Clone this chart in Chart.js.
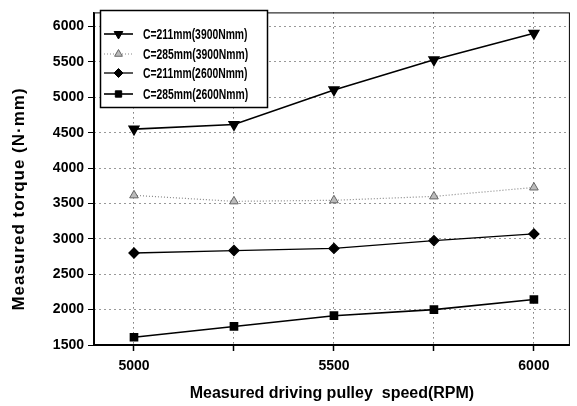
<!DOCTYPE html>
<html>
<head>
<meta charset="utf-8">
<script src="https://cdn.jsdelivr.net/npm/chart.js@4/dist/chart.umd.min.js"></script>
<style>
  html, body { margin: 0; padding: 0; background: #fff; }
  #wrap { width: 577px; height: 406px; }
</style>
</head>
<body>
<div id="wrap"><canvas id="chart"></canvas></div>
<script>
const SPEEDS = [5000, 5250, 5500, 5750, 6000];
const SERIES_LABELS = ['C=211mm(3900Nmm)', 'C=285mm(3900Nmm)', 'C=211mm(2600Nmm)', 'C=285mm(2600Nmm)'];
const TORQUE_211_3900 = [4550, 4615, 5105, 5530, 5905];
const TORQUE_285_3900 = [3615, 3530, 3545, 3600, 3726];
const TORQUE_211_2600 = [2800, 2835, 2865, 2975, 3070];
const TORQUE_285_2600 = [1610, 1762, 1914, 2000, 2143];
const X_TICKS = [5000, 5250, 5500, 5750, 6000];
const Y_TICKS = [1500, 1750, 2000, 2250, 2500, 2750, 3000, 3250, 3500, 3750, 4000, 4250, 4500, 4750, 5000, 5250, 5500, 5750, 6000];
const Y_TITLE = 'Measured torque (N·mm)';

const SANS = "'Liberation Sans', Arial, sans-serif";

function points(values) {
    return SPEEDS.map((x, i) => ({ x: x, y: values[i] }));
}

const datasets = [
    {
        label: SERIES_LABELS[0],
        data: points(TORQUE_211_3900),
        borderColor: '#000', borderWidth: 1.6,
        pointStyle: 'triangle', rotation: 180, pointRadius: 5.5,
        pointBackgroundColor: '#000', pointBorderColor: '#000'
    },
    {
        label: SERIES_LABELS[1],
        data: points(TORQUE_285_3900),
        borderColor: '#888', borderWidth: 1.2, borderDash: [1, 2],
        pointStyle: 'triangle', pointRadius: 5,
        pointBackgroundColor: '#bbb', pointBorderColor: '#666', pointBorderWidth: 1
    },
    {
        label: SERIES_LABELS[2],
        data: points(TORQUE_211_2600),
        borderColor: '#000', borderWidth: 1.3,
        pointStyle: 'rectRot', pointRadius: 5,
        pointBackgroundColor: '#000', pointBorderColor: '#000'
    },
    {
        label: SERIES_LABELS[3],
        data: points(TORQUE_285_2600),
        borderColor: '#000', borderWidth: 1.6,
        pointStyle: 'rect', pointRadius: 5,
        pointBackgroundColor: '#000', pointBorderColor: '#000'
    }
];

// condensed text: draw normally, squeezed horizontally
function narrowText(ctx, text, x, y, squeeze) {
    ctx.save();
    ctx.translate(x, y);
    ctx.scale(squeeze, 1);
    ctx.fillText(text, 0, 0);
    ctx.restore();
}

// frame around the plot area, boxed legend top-left, y axis title
const frameLegend = {
    id: 'frameLegend',
    afterDraw(chart) {
        const { ctx, chartArea: { top, bottom, left, right } } = chart;
        ctx.save();
        ctx.strokeStyle = '#000';
        ctx.lineWidth = 1;
        ctx.strokeRect(left + 0.5, top + 0.5, right - left - 1, bottom - top);

        const bx = 100, by = 10, bw = 167, bh = 97;
        ctx.fillStyle = '#fff';
        ctx.fillRect(bx, by, bw, bh);
        ctx.lineWidth = 1.5;
        ctx.strokeRect(bx + 0.5, by + 0.5, bw, bh);

        const rows = [34, 54, 73, 94];
        chart.data.datasets.forEach((ds, i) => {
            const y = rows[i];
            ctx.save();
            ctx.strokeStyle = ds.borderColor;
            ctx.lineWidth = ds.borderWidth;
            ctx.setLineDash(ds.borderDash || []);
            ctx.beginPath();
            ctx.moveTo(104, y);
            ctx.lineTo(133, y);
            ctx.stroke();
            ctx.restore();
            ctx.save();
            ctx.fillStyle = ds.pointBackgroundColor;
            ctx.strokeStyle = ds.pointBorderColor;
            ctx.lineWidth = ds.pointBorderWidth || 1;
            Chart.helpers.drawPoint(ctx, {
                pointStyle: ds.pointStyle,
                radius: ds.pointRadius - 0.5,
                rotation: ds.rotation || 0,
                borderWidth: ds.pointBorderWidth || 1
            }, 118.5, y);
            ctx.restore();
            ctx.fillStyle = '#000';
            ctx.font = 'bold 14px ' + SANS;
            ctx.textBaseline = 'middle';
            ctx.textAlign = 'left';
            narrowText(ctx, ds.label, 143, y + 1, 0.74);
        });

        ctx.save();
        ctx.translate(19, 199);
        ctx.rotate(-Math.PI / 2);
        ctx.fillStyle = '#000';
        ctx.font = 'bold 17px ' + SANS;
        ctx.letterSpacing = '1px';
        ctx.textAlign = 'center';
        ctx.textBaseline = 'middle';
        ctx.fillText(Y_TITLE, 0, 0);
        ctx.restore();
        ctx.restore();
    }
};

new Chart(document.getElementById('chart'), {
    type: 'line',
    data: { datasets },
    options: {
        responsive: true,
        maintainAspectRatio: false,
        animation: false,
        layout: { padding: { top: 10, right: 4, left: 0, bottom: 0 } },
        plugins: { legend: { display: false }, tooltip: { enabled: false } },
        elements: { line: { tension: 0 } },
        scales: {
            x: {
                type: 'linear',
                min: 4900,
                max: 6090,
                afterBuildTicks: scale => { scale.ticks = X_TICKS.map(v => ({ value: v })); },
                afterFit: scale => { scale.height = 61; },
                ticks: {
                    color: '#000',
                    padding: 7,
                    maxRotation: 0,
                    font: { family: SANS, size: 14, weight: 'bold' },
                    callback: v => (v % 500 === 0 ? String(v) : '')
                },
                grid: { color: '#333', lineWidth: 1, tickLength: 6, tickColor: '#000', tickWidth: 1.5 },
                border: { display: true, color: '#000', width: 1.5, dash: [1, 4] },
                title: {
                    display: true,
                    text: 'Measured driving pulley  speed(RPM)',
                    color: '#000',
                    padding: { top: 0, bottom: 3 },
                    font: { family: SANS, size: 16, weight: 'bold' }
                }
            },
            y: {
                min: 1500,
                max: 6200,
                afterBuildTicks: scale => { scale.ticks = Y_TICKS.map(v => ({ value: v })); },
                afterFit: scale => { scale.width = 94; },
                ticks: {
                    color: '#000',
                    padding: 4,
                    font: { family: SANS, size: 14, weight: 'bold' },
                    callback: v => (v % 500 === 0 ? String(v) : '')
                },
                grid: {
                    color: ctx => (ctx.tick && ctx.tick.value % 500 === 0 ? '#333' : 'rgba(0,0,0,0)'),
                    lineWidth: 1,
                    tickLength: 6,
                    tickColor: '#000',
                    tickWidth: 1
                },
                border: { display: true, color: '#000', width: 1.5, dash: [1, 4] }
            }
        }
    },
    plugins: [frameLegend]
});
</script>
</body>
</html>
